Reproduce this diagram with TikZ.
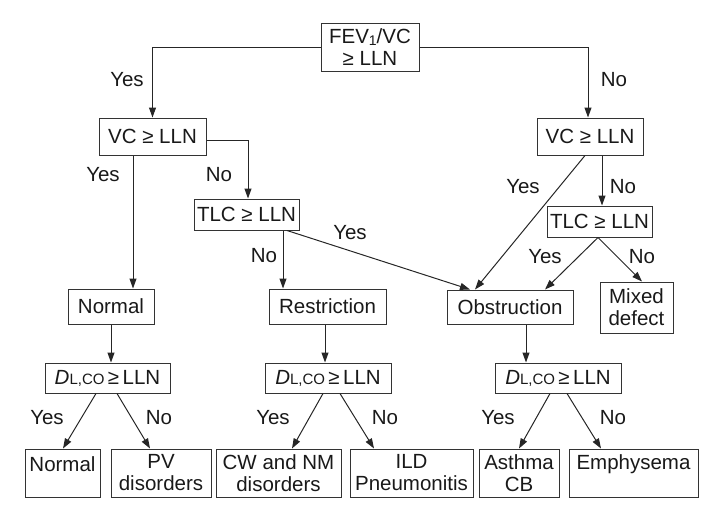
\documentclass[tikz,border=0pt]{standalone}
\usepackage{fontspec}
\setmainfont{Liberation Sans}
\usetikzlibrary{arrows.meta,positioning}
\newcommand{\dlco}{\textit{D}{\fontsize{15}{15}\selectfont L,CO}\,≥\,LLN}

\begin{document}
\begin{tikzpicture}[x=1pt,y=-1pt,
  every node/.style={font=\fontsize{20.5}{22}\selectfont,inner sep=0pt,align=center,text=black!90},
  box/.style={draw=black!80,line width=1pt},
  arr/.style={draw=black!85,line width=1pt,-{Triangle[length=10pt,width=7pt]}}]
  \useasboundingbox (0,0) rectangle (711,519);

  % Decision boxes
  \node[box,minimum width=98pt,minimum height=47pt] (fev) at (370,47.5) {FEV{\fontsize{14}{14}\selectfont\raisebox{-1.5pt}{1}}/VC\\≥ LLN};
  \node[box,minimum width=107pt,minimum height=37pt] (vcL) at (152.5,136.5) {VC ≥ LLN};
  \node[box,minimum width=106pt,minimum height=37pt] (vcR) at (590,136.5) {VC ≥ LLN};
  \node[box,minimum width=105pt,minimum height=31pt] (tlcL) at (246.5,214.5) {TLC ≥ LLN};
  \node[box,minimum width=105pt,minimum height=31pt] (tlcR) at (599.5,221.5) {TLC ≥ LLN};

  % Patterns
  \node[box,minimum width=86pt,minimum height=35pt] (normal) at (111,306.5) {Normal};
  \node[box,minimum width=117pt,minimum height=35pt] (restr) at (327.5,306.5) {Restriction};
  \node[box,minimum width=126pt,minimum height=34pt] (obstr) at (510,307) {Obstruction};
  \node[box,minimum width=73pt,minimum height=51pt] (mixed) at (636.5,307.5) {Mixed\\defect};

  % Diffusion boxes
  \node[box,minimum width=125pt,minimum height=30pt] (dlL) at (107.5,378) {\dlco};
  \node[box,minimum width=126pt,minimum height=30pt] (dlM) at (328,378) {\dlco};
  \node[box,minimum width=126pt,minimum height=30pt] (dlR) at (558,378) {\dlco};

  % Outcomes
  \node[box,minimum width=75pt,minimum height=48pt] (norm2) at (62.5,473) {Normal\\[-4pt]};
  \node[box,minimum width=100pt,minimum height=48pt] (pv) at (161,473) {PV\\disorders};
  \node[box,minimum width=125pt,minimum height=48pt] (cw) at (278.5,473) {CW and NM\\disorders};
  \node[box,minimum width=123pt,minimum height=48pt] (ild) at (411.5,473) {ILD\\Pneumonitis};
  \node[box,minimum width=80pt,minimum height=48pt] (asthma) at (519,473) {Asthma\\CB};
  \node[box,minimum width=129pt,minimum height=48pt] (emph) at (633.5,473) {Emphysema\\\phantom{C}};

  % Connectors
  \draw[arr] (fev.west) -| (vcL.north);
  \draw[arr] (fev.east) -| ([xshift=-2pt]vcR.north);
  \draw[arr] ([yshift=-3.5pt]vcL.east) -| ([xshift=1.5pt]tlcL.north);
  \draw[arr] ([xshift=-19.5pt]vcL.south) -- ([xshift=22pt]normal.north);
  \draw[arr] ([xshift=36.5pt]tlcL.south) -- ([xshift=-44.5pt]restr.north);
  \draw[arr] ([xshift=40.5pt]tlcL.south) -- ([xshift=-40pt]obstr.north);
  \draw[arr] ([xshift=-5pt]vcR.south) -- ([xshift=-35pt]obstr.north);
  \draw[arr] ([xshift=12pt]vcR.south) -- ([xshift=2.5pt]tlcR.north);
  \draw[arr] ([xshift=-1.5pt]tlcR.south) -- ([xshift=35pt]obstr.north);
  \draw[arr] ([xshift=-1.5pt]tlcR.south) -- ([xshift=5.5pt]mixed.north);
  \draw[arr] (normal.south) -- ([xshift=3.5pt]dlL.north);
  \draw[arr] ([xshift=-2.5pt]restr.south) -- ([xshift=-3pt]dlM.north);
  \draw[arr] ([xshift=16pt]obstr.south) -- ([xshift=-32pt]dlR.north);
  \draw[arr] ([xshift=-11.5pt]dlL.south) -- ([xshift=0.5pt]norm2.north);
  \draw[arr] ([xshift=9.5pt]dlL.south) -- ([xshift=-11pt]pv.north);
  \draw[arr] ([xshift=-5pt]dlM.south) -- ([xshift=13.5pt]cw.north);
  \draw[arr] ([xshift=12pt]dlM.south) -- ([xshift=-37.5pt]ild.north);
  \draw[arr] ([xshift=-8pt]dlR.south) -- (asthma.north);
  \draw[arr] ([xshift=9pt]dlR.south) -- ([xshift=-32.5pt]emph.north);

  % Yes / No labels
  \node (y1) at (127,80) {Yes};
  \node (n1) at (614,80) {No};
  \node (y2) at (103,175) {Yes};
  \node (n2) at (219,175) {No};
  \node (n3) at (264,256) {No};
  \node (y3) at (350,233) {Yes};
  \node (y4) at (523,187) {Yes};
  \node (n4) at (623,187) {No};
  \node (y5) at (545,257) {Yes};
  \node (n5) at (642,257) {No};
  \node (y6) at (47,418) {Yes};
  \node (n6) at (159,418) {No};
  \node (y7) at (273,418) {Yes};
  \node (n7) at (385,418) {No};
  \node (y8) at (498,418) {Yes};
  \node (n8) at (613,418) {No};
\end{tikzpicture}
\end{document}
